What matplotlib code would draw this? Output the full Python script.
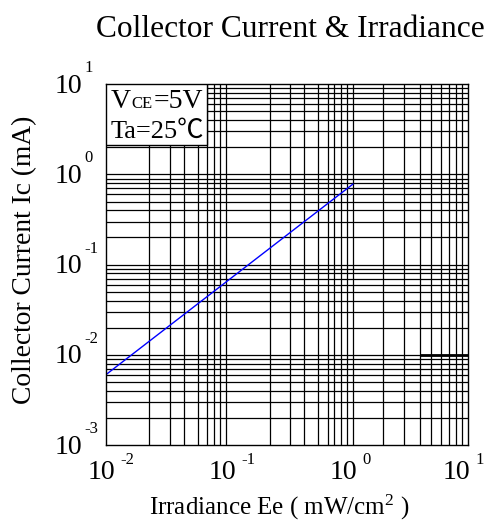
import matplotlib
matplotlib.use("Agg")
import matplotlib.pyplot as plt
from matplotlib.patches import Rectangle

plt.rcParams['font.family'] = ['Liberation Serif', 'Noto Sans CJK SC', 'DejaVu Sans']
plt.rcParams['mathtext.fontset'] = 'custom'
plt.rcParams['mathtext.rm'] = 'Liberation Serif'
plt.rcParams['mathtext.it'] = 'Liberation Serif'

# curve
irradiance = [0.01, 1.12]
collector_current = [0.006, 0.78]

x_ticks = [1e-2, 1e-1, 1e0, 1e1]
x_tick_exps = ['-2', '-1', '0', '1']
y_ticks = [1e-3, 1e-2, 1e-1, 1e0, 1e1]
y_tick_exps = ['-3', '-2', '-1', '0', '1']

# vertical grid lines as drawn in the reference (not quite standard)
vgrid = [0.023, 0.034, 0.0442, 0.0578, 0.0692, 0.0786, 0.0893, 0.1,
         0.23, 0.34, 0.442, 0.578, 0.692, 0.786, 0.893, 1.0,
         1.12, 2, 3, 4, 5, 6, 7, 8, 9]
hgrid = [k * 10.0 ** e for e in range(-3, 1) for k in range(1, 10)][1:]

fig = plt.figure(figsize=(4.87, 5.23), dpi=100)
ax = fig.add_axes([0.217, 0.149, 0.743, 0.690])
ax.set_xscale('log')
ax.set_yscale('log')
ax.set_xlim(1e-2, 1e1)
ax.set_ylim(1e-3, 1e1)

for v in vgrid:
    ax.axvline(v, color='black', lw=0.9, zorder=1)
for h in hgrid:
    ax.axhline(h, color='black', lw=0.9, zorder=1)
ax.hlines(0.01, 4, 10, color='black', lw=2, zorder=1)

ax.plot(irradiance, collector_current, color='blue', lw=1, zorder=2)

ax.set_xticks(x_ticks)
ax.set_yticks(y_ticks)
ax.set_xticklabels([])
ax.set_yticklabels([])
ax.minorticks_off()
ax.tick_params(length=0)
for s in ax.spines.values():
    s.set_linewidth(1)

# tick labels: big "10" with a small raised exponent
xt = ax.get_xaxis_transform()
for i, (t, e) in enumerate(zip(x_ticks, x_tick_exps)):
    dx = -7 if i == len(x_ticks) - 1 else 0   # last one sits further left
    ax.annotate('10', (t, 0), xycoords=xt, xytext=(10 + dx, -15), textcoords='offset pixels',
                ha='right', va='top', fontsize=20, annotation_clip=False)
    ax.annotate(e, (t, 0), xycoords=xt, xytext=(15 + dx, -7), textcoords='offset pixels',
                ha='left', va='top', fontsize=12, annotation_clip=False)
yt = ax.get_yaxis_transform()
for t, e in zip(y_ticks, y_tick_exps):
    ax.annotate('10', (0, t), xycoords=yt, xytext=(-23, -2), textcoords='offset pixels',
                ha='right', va='center', fontsize=20, annotation_clip=False)
    ax.annotate(e, (0, t), xycoords=yt, xytext=(-21, 8), textcoords='offset pixels',
                ha='left', va='bottom', fontsize=12, annotation_clip=False)

# legend box in the top left corner
ax.add_patch(Rectangle((0, 1 - 0.169), 0.279, 0.169, transform=ax.transAxes,
                       facecolor='white', edgecolor='black', lw=1, zorder=3))

def px(x, y):
    return x / 487, 1 - y / 523

fig.text(*px(111, 108), 'V', fontsize=20, va='baseline', zorder=4)
fig.text(*px(131, 108), 'CE', fontsize=12, va='baseline', zorder=4)
fig.text(*px(154, 108), '=5V', fontsize=20, va='baseline', zorder=4)
fig.text(*px(111, 138), 'Ta=25℃', fontsize=19, va='baseline', zorder=4)

fig.text(*px(290.5, 37), 'Collector Current & Irradiance', fontsize=22.6,
         ha='center', va='baseline')
fig.text(*px(25, 260), 'Collector Current Ic (mA)', fontsize=19.8,
         rotation=90, ha='center', va='center')
fig.text(*px(279, 515), r'Irradiance Ee ( mW/cm$^{2}$ )', fontsize=18,
         ha='center', va='baseline')

fig.savefig('out.png', dpi=100)
